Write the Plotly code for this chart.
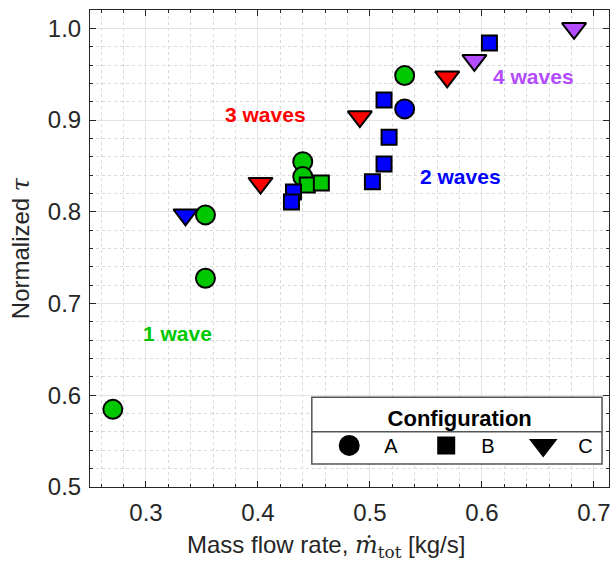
import plotly.graph_objects as go

# ---------------- data ----------------
# Configuration A (circles)
gA_x = [0.2704, 0.3531, 0.3531, 0.440, 0.440, 0.531]
gA_y = [0.5847, 0.7276, 0.7966, 0.8547, 0.8384, 0.9485]
bA_x = [0.531]
bA_y = [0.9122]
# Configuration B (squares)
gB_x = [0.4441, 0.4566]
gB_y = [0.8293, 0.8315]
bB_x = [0.4317, 0.4299, 0.5126, 0.5171, 0.5126, 0.5022, 0.6067]
bB_y = [0.8217, 0.8108, 0.9220, 0.8814, 0.8522, 0.8329, 0.9839]
# Configuration C (triangles)
bC_x = [0.3353]
bC_y = [0.7968]
rC_x = [0.4023, 0.4910, 0.5690]
rC_y = [0.8312, 0.9038, 0.9471]
pC_x = [0.5933, 0.6823]
pC_y = [0.9651, 1.0000]

wave_labels = ["1 wave", "2 waves", "3 waves", "4 waves"]
wave_label_x = [0.328, 0.5807, 0.4068, 0.6464]
wave_label_y = [0.6676, 0.8384, 0.9057, 0.9474]

configs = ["A", "B", "C"]
x_ticks = [0.3, 0.4, 0.5, 0.6, 0.7]
y_ticks = [0.5, 0.6, 0.7, 0.8, 0.9, 1.0]

x_title = "Mass flow rate, <span style=\"font-family:'DejaVu Serif'\"><i>ṁ</i><sub>tot</sub></span> [kg/s]"
y_title = "Normalized <span style=\"font-family:'DejaVu Serif'\"><i>τ</i></span>"

GREEN = "#00c800"
BLUE = "#0000ff"
RED = "#ff0000"
PURPLE = "#b44cff"
FONT = "Liberation Sans, Arial, sans-serif"

symbols = {"A": "circle", "B": "square", "C": "triangle-down"}
sizes = {"A": 19, "B": 15, "C": 21}
wave_colors = [GREEN, BLUE, RED, PURPLE]

fig = go.Figure()

def add(xs, ys, cfg, color):
    fig.add_trace(go.Scatter(
        x=xs, y=ys, mode="markers", showlegend=False, hoverinfo="skip",
        marker=dict(symbol=symbols[cfg], size=sizes[cfg], color=color,
                    line=dict(color="black", width=2))))

add(bC_x, bC_y, "C", BLUE)
add(gA_x, gA_y, "A", GREEN)
add(gB_x, gB_y, "B", GREEN)
add(pC_x, pC_y, "C", PURPLE)
add(rC_x, rC_y, "C", RED)
add(bB_x, bB_y, "B", BLUE)
add(bA_x, bA_y, "A", BLUE)

# legend entries
leg_sizes = {"A": 16, "B": 14, "C": 16}
leg_lw = {"A": 5, "B": 4, "C": 5}
for cfg in configs:
    fig.add_trace(go.Scatter(
        x=[None], y=[None], mode="markers", name=cfg,
        marker=dict(symbol=symbols[cfg], size=leg_sizes[cfg], color="black",
                    line=dict(color="black", width=leg_lw[cfg]))))

for txt, xx, yy, col in zip(wave_labels, wave_label_x, wave_label_y, wave_colors):
    fig.add_annotation(x=xx, y=yy, text="<b>%s</b>" % txt, showarrow=False,
                       font=dict(family=FONT, size=21, color=col),
                       xanchor="center", yanchor="middle")

# x-axis title (placed as in the reference, slightly left of centre)
fig.add_annotation(x=0.454, y=-0.1237, xref="paper", yref="paper", text=x_title,
                   showarrow=False, xanchor="center", yanchor="middle",
                   font=dict(family=FONT, size=24, color="#262626"))

# legend box and divider
box_x0, box_x1 = 0.4274, 0.9866
box_y0, box_y1 = 0.0482, 0.188
div_y = 0.1159
fig.add_shape(type="rect", xref="paper", yref="paper", x0=box_x0, x1=box_x1,
              y0=box_y0, y1=box_y1, fillcolor="white",
              line=dict(color="#555555", width=1.5), layer="above")
fig.add_shape(type="line", xref="paper", yref="paper", x0=box_x0, x1=box_x1,
              y0=div_y, y1=div_y, line=dict(color="#555555", width=1.5), layer="above")

axis_common = dict(
    showline=True, linecolor="#262626", linewidth=1, mirror="allticks",
    ticks="inside", ticklen=6, tickcolor="#262626",
    showgrid=True, gridcolor="#e3e3e3", gridwidth=1,
    zeroline=False, tickfont=dict(family=FONT, size=24, color="#262626"),
    tickformat=".1f",
    minor=dict(ticks="inside", ticklen=3, tickcolor="#262626", dtick=0.02, tick0=0,
               showgrid=True, gridcolor="#d9d9d9", griddash="dot", gridwidth=1),
)

fig.update_layout(
    width=616, height=561,
    margin=dict(l=90, r=5, t=10, b=74),
    plot_bgcolor="white", paper_bgcolor="white",
    font=dict(family=FONT, color="#262626"),
    xaxis=dict(range=[0.25, 0.7135], tickvals=x_ticks, ticklabelstandoff=4,
               **axis_common),
    yaxis=dict(range=[0.5, 1.02], tickvals=y_ticks, ticklabelstandoff=3,
               title=dict(text=y_title,
                          font=dict(family=FONT, size=24, color="#262626"), standoff=11),
               **axis_common),
    legend=dict(
        orientation="h", x=0.9927, xanchor="right", y=0.188, yanchor="top",
        bgcolor="rgba(0,0,0,0)", borderwidth=0,
        title=dict(text="<b>Configuration</b>", side="top center",
                   font=dict(family=FONT, size=22, color="black")),
        font=dict(family=FONT, size=20, color="black"),
        itemwidth=60, entrywidth=22, itemclick=False, itemdoubleclick=False,
    ),
)

fig.write_html("out.html")
